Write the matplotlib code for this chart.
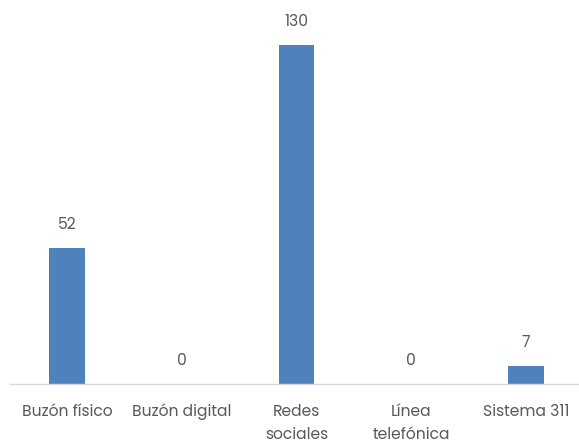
import matplotlib
matplotlib.use("Agg")
import matplotlib.pyplot as plt
import numpy as np

categories = ["Buzón físico", "Buzón digital", "Redes\nsociales", "Línea\ntelefónica", "Sistema 311"]
values = [52, 0, 130, 0, 7]

plt.rcParams['font.family'] = ['Poppins', 'Lato', 'DejaVu Sans']
text_color = "#595959"

fig = plt.figure(figsize=(5.79, 4.43), dpi=100)
ax = fig.add_axes([0.0166, 0.133, 0.991, 0.867])

x = np.arange(len(categories))
bars = ax.bar(x, values, width=0.307, color="#4f81bd")

for xi, v in zip(x, values):
    ax.annotate(str(v), (xi, v), xytext=(0, 11), textcoords="offset points",
                ha="center", va="bottom", fontsize=11.2, color=text_color)

ax.set_xlim(-0.5, len(categories) - 0.5)
ax.set_ylim(0, 147.3)
ax.set_xticks(x)
ax.set_xticklabels(categories, fontsize=11.2, color=text_color, linespacing=1.6)
ax.tick_params(axis="x", length=0, pad=14)
ax.set_yticks([])
for side in ["top", "left", "right"]:
    ax.spines[side].set_visible(False)
ax.spines["bottom"].set_color("#d9d9d9")
ax.spines["bottom"].set_linewidth(1.0)

fig.savefig("out.png", dpi=100)
